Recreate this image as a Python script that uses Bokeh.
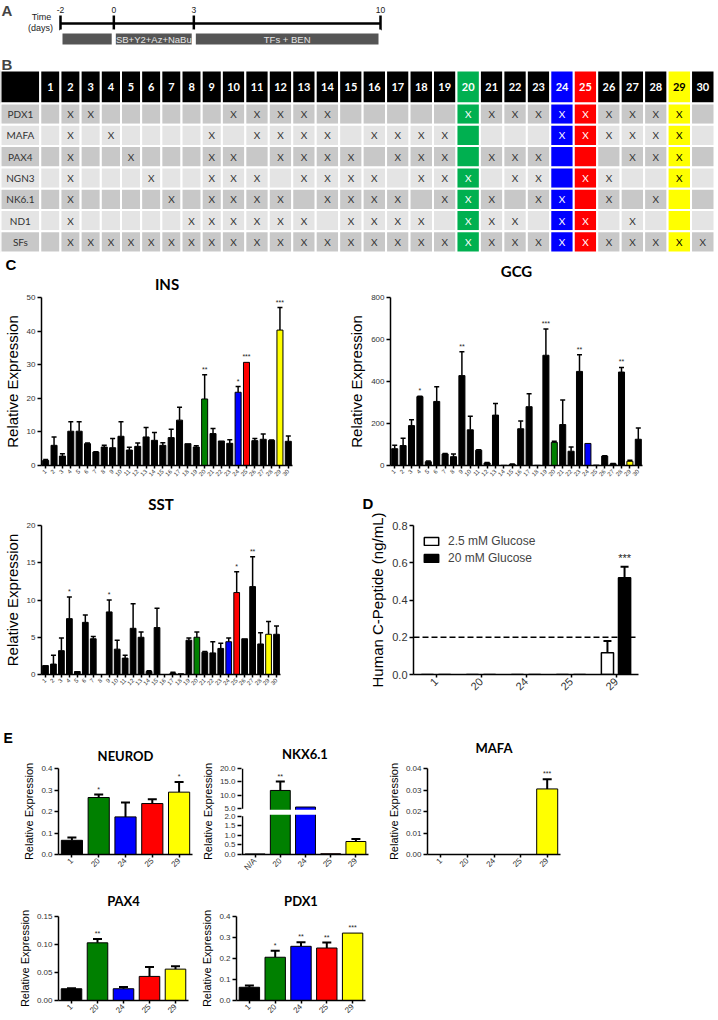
import math
from bokeh.plotting import figure
from bokeh.layouts import column, row
from bokeh.models import (Range1d, FactorRange, FixedTicker, Whisker, TeeHead,
                          ColumnDataSource, Label, Span, BoxAnnotation, Title,
                          PrintfTickFormatter, Legend, LegendItem)
from bokeh.transform import dodge
from bokeh.core.properties import value
from bokeh.embed import file_html
from bokeh.resources import INLINE

# ======================= DATA =======================
timeline_days = [-2, 0, 3, 10]
timeline_phases = ["", "SB+Y2+Az+NaBu", "TFs + BEN"]

combo_ids = [str(i) for i in range(1, 31)]
tf_rows = ["PDX1", "MAFA", "PAX4", "NGN3", "NK6.1", "ND1", "SFs"]
tf_pdx1 = [2, 3, 10, 11, 12, 13, 14, 20, 21, 22, 23, 24, 25, 26, 27, 28, 29]
tf_mafa = [2, 4, 9, 11, 12, 13, 14, 16, 17, 18, 19, 24, 25, 26, 27, 28, 29]
tf_pax4 = [2, 5, 9, 10, 12, 13, 14, 15, 17, 18, 19, 21, 22, 23, 27, 28, 29]
tf_ngn3 = [2, 6, 9, 10, 11, 13, 14, 15, 16, 18, 19, 20, 22, 23, 25, 26, 29]
tf_nk61 = [2, 7, 9, 10, 11, 12, 14, 15, 16, 17, 19, 20, 21, 23, 24, 26, 28]
tf_nd1 = [2, 8, 9, 10, 11, 12, 13, 15, 16, 17, 18, 20, 21, 22, 24, 25, 27]
tf_sfs = [2, 3, 4, 5, 6, 7, 8, 9, 10, 11, 12, 13, 14, 15, 16, 17, 18, 19, 20,
          21, 22, 23, 24, 25, 26, 27, 28, 29, 30]

highlight_ids = ["20", "24", "25", "29"]
highlight_table_colors = ["#00b050", "#0000ff", "#ff0000", "#ffff00"]
highlight_text_colors = ["white", "white", "white", "black"]
highlight_bar_colors = ["#008000", "#0000ff", "#ff0000", "#ffff00"]

ins_mean = [1.5, 6.0, 2.8, 10.2, 10.2, 6.5, 4.0, 5.5, 5.3, 8.7, 4.6, 5.7, 8.5, 7.5, 6.0,
            8.3, 13.5, 6.5, 5.5, 19.8, 9.5, 7.3, 6.6, 21.8, 30.7, 7.4, 7.8, 7.5, 40.3, 7.2]
ins_upper = [1.8, 8.5, 3.5, 13.0, 13.0, 6.7, 4.1, 6.0, 8.0, 13.0, 5.4, 6.7, 11.3, 9.8, 6.8,
             10.8, 17.3, 6.5, 5.9, 27.0, 11.0, 7.3, 7.7, 23.5, 30.7, 8.0, 9.4, 7.6, 47.0, 8.8]
ins_sig = {"20": "**", "24": "*", "25": "***", "29": "***"}

gcg_mean = [80, 95, 190, 328, 18, 305, 55, 42, 428, 170, 73, 12, 240, 1, 5,
            175, 280, 1, 525, 110, 195, 68, 448, 105, 2, 45, 8, 445, 20, 125]
gcg_upper = [97, 130, 218, 330, 22, 375, 57, 55, 542, 235, 75, 14, 295, 1, 7,
             212, 342, 1, 650, 115, 312, 88, 527, 105, 2, 47, 10, 467, 25, 178]
gcg_sig = {"4": "*", "9": "**", "19": "***", "23": "**", "28": "**"}

sst_mean = [1.2, 1.4, 3.2, 7.5, 0.4, 7.0, 4.8, 0.0, 8.4, 3.4, 2.2, 6.2, 5.0, 0.4, 6.3,
            0.0, 0.2, 0.1, 4.6, 5.0, 3.0, 2.9, 3.5, 4.4, 11.0, 4.8, 11.8, 4.1, 5.4, 5.4]
sst_upper = [1.2, 2.6, 4.9, 10.4, 0.4, 8.0, 5.1, 0.0, 10.0, 4.6, 2.6, 9.5, 5.7, 0.5, 8.9,
             0.0, 0.3, 0.1, 4.9, 5.7, 3.1, 4.4, 4.2, 4.9, 13.8, 4.8, 15.8, 5.6, 7.1, 6.5]
sst_sig = {"4": "*", "9": "*", "25": "*", "27": "**"}

cpep_groups = ["1", "20", "24", "25", "29"]
cpep_labels = ["2.5 mM Glucose", "20 mM Glucose"]
cpep_low_mean = [0.0, 0.0, 0.0, 0.0, 0.117]
cpep_low_upper = [0.0, 0.0, 0.0, 0.0, 0.18]
cpep_high_mean = [0.0, 0.0, 0.0, 0.0, 0.52]
cpep_high_upper = [0.0, 0.0, 0.0, 0.0, 0.578]
cpep_high_sig = {"29": "***"}
cpep_threshold = 0.2

e_groups = ["1", "20", "24", "25", "29"]
neurod_mean = [0.066, 0.265, 0.175, 0.237, 0.29]
neurod_upper = [0.079, 0.279, 0.242, 0.257, 0.337]
neurod_sig = {"20": "*", "29": "*"}

nkx_groups = ["N/A", "20", "24", "25", "29"]
nkx_mean = [0.03, 11.8, 5.6, 0.04, 0.68]
nkx_upper = [0.03, 15.1, 5.6, 0.04, 0.81]
nkx_sig = {"20": "**"}
nkx_low_ticks = [0.0, 0.5, 1.0, 1.5, 2.0]
nkx_high_ticks = [5.0, 10.0, 15.0, 20.0]

mafa_mean = [0.0, 0.0, 0.0, 0.0, 0.0305]
mafa_upper = [0.0, 0.0, 0.0, 0.0, 0.035]
mafa_sig = {"29": "***"}

pax4_mean = [0.021, 0.103, 0.021, 0.043, 0.056]
pax4_upper = [0.022, 0.110, 0.024, 0.060, 0.061]
pax4_sig = {"20": "**"}

pdx1_mean = [0.063, 0.206, 0.258, 0.250, 0.321]
pdx1_upper = [0.071, 0.237, 0.277, 0.276, 0.321]
pdx1_sig = {"20": "*", "24": "**", "25": "**", "29": "***"}

# ======================= STYLE HELPERS =======================
FONT = "Liberation Sans"
TFONT = "Lato"


def hl(cat, palette, default):
    return palette[highlight_ids.index(cat)] if cat in highlight_ids else default


def base_fig(w, h, xr, yr, left, right, top, bottom):
    p = figure(width=w, height=h, x_range=xr, y_range=yr,
               toolbar_location=None, output_backend="svg",
               min_border_left=left, min_border_right=right,
               min_border_top=top, min_border_bottom=bottom)
    p.xgrid.visible = False
    p.ygrid.visible = False
    p.outline_line_color = None
    return p


def style_axes(p, ytick_fs, ylab_fs, xtick_fs, axis_w=1.5):
    for ax in (p.xaxis[0], p.yaxis[0]):
        ax.axis_line_width = axis_w
        ax.axis_line_color = "black"
        ax.major_tick_line_width = axis_w
        ax.major_tick_line_color = "black"
        ax.major_tick_in = 0
        ax.minor_tick_line_color = None
        ax.major_label_text_font = FONT
        ax.major_label_text_color = "#333333"
    y = p.yaxis[0]
    y.major_tick_out = 4
    y.major_label_text_font_size = ytick_fs
    y.major_label_standoff = 2
    y.axis_label_text_font = FONT
    y.axis_label_text_font_size = ylab_fs
    y.axis_label_text_font_style = "normal"
    y.axis_label_text_color = "black"
    y.axis_label_standoff = 3
    x = p.xaxis[0]
    x.major_tick_out = 3
    x.major_label_text_font_size = xtick_fs
    x.major_label_orientation = math.pi / 4
    x.major_label_standoff = 2


def add_spacer(p, px):
    # blank title placed next to the frame to lift the real title
    if px:
        p.add_layout(Title(text=" ", text_font_size="%.1fpx" % px, standoff=0), "above")


def gene_title(text, size, offset):
    return Title(text=text, align="center", offset=offset, standoff=0, text_font=TFONT,
                 text_font_size=size, text_font_style="bold", text_color="black")


def set_letter(p, text, offset, size="15px"):
    # panel letter as the outermost title, left aligned
    p.title.text = text
    p.title.align = "left"
    p.title.offset = offset
    p.title.standoff = 0
    p.title.text_font = FONT
    p.title.text_font_size = size
    p.title.text_font_style = "bold"
    p.title.text_color = "black"


def set_gene(p, text, size, offset):
    p.title.text = text
    p.title.align = "center"
    p.title.offset = offset
    p.title.standoff = 0
    p.title.text_font = TFONT
    p.title.text_font_size = size
    p.title.text_font_style = "bold"
    p.title.text_color = "black"


def bar_panel(title, cats, mean, upper, sig, w, h, left, right, top, bottom,
              ymax, yticks, yfmt, bar_w, cap, err_w, ytick_fs, ylab_fs, xtick_fs,
              title_fs, star_fs, title_off, spacer=0, letter=None,
              letter_size="15px", ylabel="Relative Expression"):
    p = base_fig(w, h, FactorRange(factors=cats, range_padding=0), Range1d(0, ymax),
                 left, right, top, bottom)
    style_axes(p, ytick_fs, ylab_fs, xtick_fs)
    colors = [hl(c, highlight_bar_colors, "black") for c in cats]
    p.vbar(x=cats, top=mean, width=bar_w, fill_color=colors,
           line_color="black", line_width=1)
    ei = [i for i in range(len(cats)) if upper[i] > mean[i]]
    esrc = ColumnDataSource(dict(base=[cats[i] for i in ei],
                                 lower=[mean[i] for i in ei],
                                 upper=[upper[i] for i in ei]))
    p.add_layout(Whisker(source=esrc, base="base", lower="lower", upper="upper",
                         line_width=err_w, line_color="black", lower_head=None,
                         upper_head=TeeHead(size=cap, line_width=err_w,
                                            line_color="black")))
    si = [i for i, c in enumerate(cats) if c in sig]
    p.text(x=[cats[i] for i in si], y=[upper[i] for i in si],
           text=[sig[cats[i]] for i in si], text_align="center",
           text_baseline="bottom", y_offset=-2, text_font=value(FONT),
           text_font_size=star_fs, text_color="#222222")
    p.yaxis.ticker = FixedTicker(ticks=yticks)
    if yfmt:
        p.yaxis.formatter = PrintfTickFormatter(format=yfmt)
    p.yaxis.axis_label = ylabel
    add_spacer(p, spacer)
    if letter:
        p.add_layout(gene_title(title, title_fs, title_off), "above")
        set_letter(p, letter, 3 - left, letter_size)
    else:
        set_gene(p, title, title_fs, title_off)
    return p


# ======================= PANEL A =======================
A_W, A_H = 714, 52
a_ppd = 320.0 / (timeline_days[-1] - timeline_days[0])
a_x0 = timeline_days[0] - 60.0 / a_ppd
pA = figure(width=A_W, height=A_H, x_range=Range1d(a_x0, a_x0 + A_W / a_ppd),
            y_range=Range1d(A_H, 0), min_border=0, x_axis_location=None,
            y_axis_location=None, toolbar_location=None, output_backend="svg")
pA.outline_line_color = None
pA.grid.visible = False
n_days = len(timeline_days)
pA.line(x=[timeline_days[0], timeline_days[-1]], y=[23, 23], line_width=2.5, line_color="black")
pA.segment(x0=timeline_days, x1=timeline_days, y0=[15] * n_days, y1=[30] * n_days,
           line_width=2.5, line_color="black")
pA.text(x=timeline_days, y=[12] * n_days, text=[str(d) for d in timeline_days],
        text_align="center", text_baseline="bottom", text_font=value(FONT),
        text_font_size="8.5px", text_color="#222222")
pA.quad(left=timeline_days[:-1], right=timeline_days[1:], top=[31] * (n_days - 1),
        bottom=[46] * (n_days - 1), fill_color="#555555", line_color="white", line_width=4)
mids = [(a + b) / 2 for a, b in zip(timeline_days[:-1], timeline_days[1:])]
pA.text(x=mids, y=[38.5] * len(mids), text=timeline_phases, text_align="center",
        text_baseline="middle", text_font=value(FONT), text_font_size="9.5px",
        text_color="#e6e6e6")
pA.add_layout(Label(x=1, y=A_H - 1, x_units="screen", y_units="screen", text="A",
                    text_baseline="top", text_font=FONT, text_font_style="bold",
                    text_font_size="15px"))
for txt, fx, fy in (("Time", 41, 16), ("(days)", 40, 27)):
    pA.add_layout(Label(x=fx, y=A_H - fy, x_units="screen", y_units="screen", text=txt,
                        text_align="center", text_baseline="middle", text_font=FONT,
                        text_font_size="9px", text_color="#222222"))

# ======================= PANEL B =======================
B_W, B_H = 714, 201
pB = figure(width=B_W, height=B_H, x_range=Range1d(0, B_W), y_range=Range1d(B_H, 0),
            min_border=0, x_axis_location=None, y_axis_location=None,
            toolbar_location=None, output_backend="svg")
pB.outline_line_color = None
pB.grid.visible = False
col_w = [40.0] + [20.3 if len(c) == 1 else 23.6 for c in combo_ids]
sc = B_W / sum(col_w)
edges = [0.0]
for wv in col_w:
    edges.append(edges[-1] + wv * sc)
centers = [(edges[j] + edges[j + 1]) / 2 for j in range(len(col_w))]
head_top, head_bot, row_h = 18.0, 51.0, 21.3
tf_members = [tf_pdx1, tf_mafa, tf_pax4, tf_ngn3, tf_nk61, tf_nd1, tf_sfs]
row_fill = ["#c8c8c8", "#e4e4e4"]

Lq, Rq, Tq, Bq, Fq = [], [], [], [], []
for j in range(len(col_w)):
    Lq.append(edges[j]); Rq.append(edges[j + 1]); Tq.append(head_top); Bq.append(head_bot)
    Fq.append("black" if j == 0 else hl(combo_ids[j - 1], highlight_table_colors, "black"))
for i in range(len(tf_rows)):
    t = head_bot + i * row_h
    for j in range(len(col_w)):
        Lq.append(edges[j]); Rq.append(edges[j + 1]); Tq.append(t); Bq.append(t + row_h)
        Fq.append(row_fill[i % 2] if j == 0 else
                  hl(combo_ids[j - 1], highlight_table_colors, row_fill[i % 2]))
pB.quad(left=Lq, right=Rq, top=Tq, bottom=Bq, fill_color=Fq, line_color="white", line_width=2)

pB.text(x=centers[1:], y=[(head_top + head_bot) / 2] * len(combo_ids), text=combo_ids,
        text_color=[hl(c, highlight_text_colors, "white") for c in combo_ids],
        text_align="center", text_baseline="middle", text_font=value(TFONT),
        text_font_style="bold", text_font_size="11px")
pB.text(x=[centers[0]] * len(tf_rows),
        y=[head_bot + (i + 0.5) * row_h for i in range(len(tf_rows))], text=tf_rows,
        text_align="center", text_baseline="middle", text_font=value(TFONT),
        text_font_size="10px", text_color="#333333")
xs, ys, xc = [], [], []
for i, members in enumerate(tf_members):
    for m in members:
        xs.append(centers[m]); ys.append(head_bot + (i + 0.5) * row_h)
        xc.append(hl(str(m), highlight_text_colors, "#333333"))
pB.text(x=xs, y=ys, text=["X"] * len(xs), text_color=xc, text_align="center",
        text_baseline="middle", text_font=value(TFONT), text_font_size="10px")
pB.add_layout(Label(x=1, y=B_H - 3, x_units="screen", y_units="screen", text="B",
                    text_baseline="top", text_font=FONT, text_font_style="bold",
                    text_font_size="15px"))

# ======================= PANEL C =======================
C_T = dict(bar_w=0.72, cap=5, err_w=1.5, ytick_fs="8px", ylab_fs="15px",
           xtick_fs="6px", title_fs="15px", star_fs="7px")
pINS = bar_panel("INS", combo_ids, ins_mean, ins_upper, ins_sig, 345, 235, 39, 53, 44, 23,
                 50, [0, 10, 20, 30, 40, 50], None, title_off=-8, spacer=3,
                 letter="C", **C_T)
pGCG = bar_panel("GCG", combo_ids, gcg_mean, gcg_upper, gcg_sig, 369, 235, 43, 72, 44, 23,
                 800, [0, 200, 400, 600, 800], None, title_off=-10, spacer=14, **C_T)
pSST = bar_panel("SST", combo_ids, sst_mean, sst_upper, sst_sig, 345, 238, 40, 65, 33, 39,
                 20, [0, 5, 10, 15, 20], None, title_off=-8, spacer=10, **C_T)

# ======================= PANEL D =======================
D_L, D_T, D_B, D_H = 68, 37, 52, 238
pD = base_fig(369, D_H, FactorRange(factors=cpep_groups, range_padding=0), Range1d(0, 0.8),
              D_L, 76, D_T, D_B)
style_axes(pD, "11px", "15px", "11px")
srcD = ColumnDataSource(dict(g=cpep_groups, lo=cpep_low_mean, hi=cpep_high_mean))
r_lo = pD.vbar(x=dodge("g", -0.19, range=pD.x_range), top="lo", width=0.27, source=srcD,
               fill_color="white", line_color="black", line_width=1.5)
r_hi = pD.vbar(x=dodge("g", 0.19, range=pD.x_range), top="hi", width=0.27, source=srcD,
               fill_color="black", line_color="black", line_width=1.5)
for means, uppers, off in ((cpep_low_mean, cpep_low_upper, -0.19),
                           (cpep_high_mean, cpep_high_upper, 0.19)):
    idx = [i for i in range(len(cpep_groups)) if uppers[i] > means[i]]
    es = ColumnDataSource(dict(g=[cpep_groups[i] for i in idx], m=[means[i] for i in idx],
                               u=[uppers[i] for i in idx]))
    pD.segment(x0=dodge("g", off, range=pD.x_range), x1=dodge("g", off, range=pD.x_range),
               y0="m", y1="u", source=es, line_width=2, line_color="black")
    pD.scatter(x=dodge("g", off, range=pD.x_range), y="u", source=es, marker="dash",
               size=8, line_width=2, line_color="black")
sidx = [i for i, g in enumerate(cpep_groups) if g in cpep_high_sig]
ssrc = ColumnDataSource(dict(g=[cpep_groups[i] for i in sidx],
                             u=[cpep_high_upper[i] for i in sidx],
                             s=[cpep_high_sig[cpep_groups[i]] for i in sidx]))
pD.text(x=dodge("g", 0.19, range=pD.x_range), y="u", text="s", source=ssrc,
        text_align="center", text_baseline="bottom", y_offset=-3, text_font=value(FONT),
        text_font_size="11px", text_color="#222222")
pD.add_layout(Span(location=cpep_threshold, dimension="width", line_color="black",
                   line_width=1.5, line_dash="6 3"))
pD.yaxis.ticker = FixedTicker(ticks=[0, 0.2, 0.4, 0.6, 0.8])
pD.yaxis.formatter = PrintfTickFormatter(format="%.1f")
pD.yaxis.axis_label = "Human C-Peptide (ng/mL)"
legD = Legend(items=[LegendItem(label=cpep_labels[0], renderers=[r_lo]),
                     LegendItem(label=cpep_labels[1], renderers=[r_hi])],
              location="top_left", border_line_color=None, background_fill_alpha=0,
              label_text_font=FONT, label_text_font_size="12px", glyph_width=18,
              glyph_height=10, spacing=3, padding=2, margin=9, label_standoff=8)
pD.add_layout(legD)
add_spacer(pD, 11)
set_letter(pD, "D", 17 - D_L)

# ======================= PANEL E =======================
E_T = dict(bar_w=0.79, cap=9, err_w=2, ytick_fs="8px", ylab_fs="11px",
           xtick_fs="8px", title_fs="13px", star_fs="7px")
pNEU = bar_panel("NEUROD", e_groups, neurod_mean, neurod_upper, neurod_sig, 198, 152,
                 58, 6, 42, 21, 0.4, [0, 0.1, 0.2, 0.3, 0.4], "%.1f", title_off=15,
                 spacer=3, letter="E", letter_size="14px", **E_T)


def nkx_pos(v):
    # broken axis: 0-2 on the lower segment, 5-20 compressed on the upper segment
    if v <= nkx_low_ticks[-1]:
        return v * 10.0
    return 24.0 + (v - nkx_high_ticks[0]) * 7.0 / 5.0


pNKX = base_fig(184, 152, Range1d(-0.54, len(nkx_groups) - 0.5),
                Range1d(0, nkx_pos(nkx_high_ticks[-1])), 35, 14, 42, 21)
style_axes(pNKX, "8px", "11px", "8px")
xi = list(range(len(nkx_groups)))
pNKX.vbar(x=xi, top=[nkx_pos(m) for m in nkx_mean], width=0.79,
          fill_color=[hl(g, highlight_bar_colors, "black") for g in nkx_groups],
          line_color="black", line_width=1)
nei = [i for i in xi if nkx_upper[i] > nkx_mean[i]]
nsrc = ColumnDataSource(dict(base=nei, lower=[nkx_pos(nkx_mean[i]) for i in nei],
                             upper=[nkx_pos(nkx_upper[i]) for i in nei]))
pNKX.add_layout(Whisker(source=nsrc, base="base", lower="lower", upper="upper",
                        line_width=2, line_color="black", lower_head=None,
                        upper_head=TeeHead(size=9, line_width=2, line_color="black")))
nsi = [i for i, g in enumerate(nkx_groups) if g in nkx_sig]
pNKX.text(x=nsi, y=[nkx_pos(nkx_upper[i]) for i in nsi],
          text=[nkx_sig[nkx_groups[i]] for i in nsi], text_align="center",
          text_baseline="bottom", y_offset=-2, text_font=value(FONT),
          text_font_size="7px", text_color="#222222")
pNKX.add_layout(BoxAnnotation(bottom=nkx_pos(nkx_low_ticks[-1]) + 0.8,
                              top=nkx_pos(nkx_high_ticks[0]) - 0.6, fill_color="white",
                              fill_alpha=1, line_alpha=0, level="overlay"))
pNKX.yaxis.axis_line_color = None
pNKX.segment(x0=[-0.5, -0.5], x1=[-0.5, -0.5],
             y0=[nkx_pos(nkx_low_ticks[0]), nkx_pos(nkx_high_ticks[0])],
             y1=[nkx_pos(nkx_low_ticks[-1]), nkx_pos(nkx_high_ticks[-1])],
             line_width=1.5, line_color="black")
nkx_all_ticks = nkx_low_ticks + nkx_high_ticks
nkx_tick_pos = [nkx_pos(t) for t in nkx_all_ticks]
pNKX.yaxis.ticker = FixedTicker(ticks=nkx_tick_pos)
pNKX.yaxis.major_label_overrides = {tp: "%.1f" % t for tp, t in zip(nkx_tick_pos, nkx_all_ticks)}
pNKX.xaxis.ticker = FixedTicker(ticks=xi)
pNKX.xaxis.major_label_overrides = {i: g for i, g in enumerate(nkx_groups)}
pNKX.yaxis.axis_label = "Relative Expression"
add_spacer(pNKX, 4.5)
set_gene(pNKX, "NKX6.1", "13px", 5)

pMAF = bar_panel("MAFA", e_groups, mafa_mean, mafa_upper, mafa_sig, 186, 152,
                 45, 8, 42, 21, 0.04, [0, 0.01, 0.02, 0.03, 0.04], "%.2f", title_off=6,
                 spacer=10, **E_T)
pPAX = bar_panel("PAX4", e_groups, pax4_mean, pax4_upper, pax4_sig, 198, 140,
                 58, 10, 38, 18, 0.15, [0, 0.05, 0.10, 0.15], "%.2f", title_off=8,
                 spacer=5, **E_T)
pPDX = bar_panel("PDX1", e_groups, pdx1_mean, pdx1_upper, pdx1_sig, 177, 140,
                 37, 10, 38, 18, 0.4, [0, 0.1, 0.2, 0.3, 0.4], "%.1f", title_off=8,
                 spacer=5, **E_T)

layout = column(pA, pB,
                row(pINS, pGCG, spacing=0),
                row(pSST, pD, spacing=0),
                row(pNEU, pNKX, pMAF, spacing=0),
                row(pPAX, pPDX, spacing=0),
                spacing=0)

open("out.html", "w").write(file_html(layout, INLINE, "Figure"))
